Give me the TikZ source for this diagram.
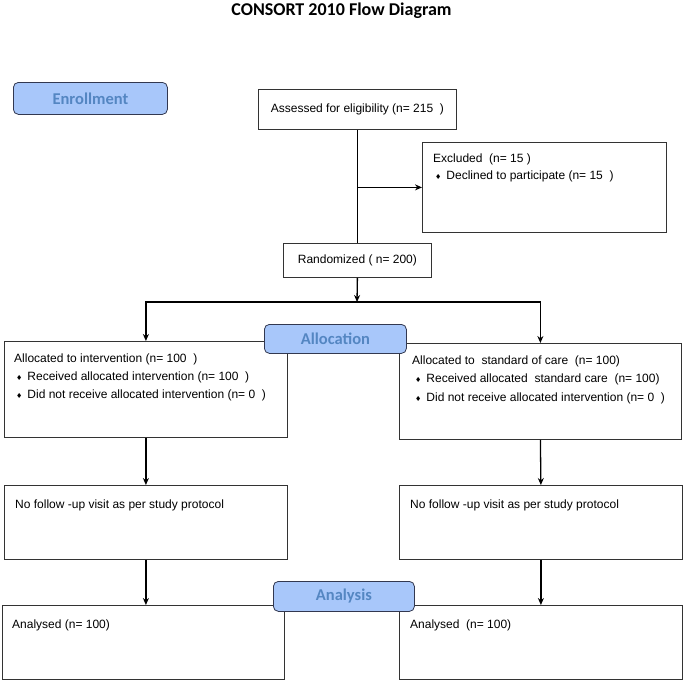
\documentclass[tikz,border=0pt]{standalone}
\usepackage{fontspec}
\setmainfont{Liberation Sans}
\newfontfamily\titlefont{Carlito}
\newfontfamily\symfont{DejaVu Sans}
\usepackage{tikz}
\usetikzlibrary{arrows.meta}

\definecolor{phasefill}{RGB}{168,199,250}
\definecolor{phasetext}{RGB}{84,134,194}
\definecolor{phaseline}{RGB}{50,56,80}
\newcommand{\bul}{{\symfont\fontsize{7}{7}\selectfont ♦}\hspace{5pt}}

\begin{document}
\begin{tikzpicture}[x=1pt, y=-1pt, font=\fontsize{12}{14}\selectfont,
		box/.style={draw=black!80, line width=0.8pt, inner sep=0pt, anchor=north west},
		phase/.style={draw=phaseline, fill=phasefill, line width=0.8pt, rounded corners=5pt,
			text=phasetext, font=\titlefont\bfseries\fontsize{16.5}{18}\selectfont, inner sep=0pt, anchor=north west},
		txt/.style={anchor=west, inner sep=0pt},
		arr/.style={line width=1.3pt, -{Stealth[length=7pt, width=6pt]}},
		link/.style={line width=1.3pt}]
		\useasboundingbox (0, 0) rectangle (683, 681);
		\node[font=\titlefont\bfseries\fontsize{18}{20}\selectfont] (title) at (341.5, 11) {CONSORT 2010 Flow Diagram};
		% Enrollment: eligibility, exclusions, randomisation.
		\node[box, minimum width=198, minimum height=40] (assess) at (258, 89) {};
		\node (assesstxt) at (assess.center) {Assessed for eligibility (n= 215\ \ )};
		\node[box, minimum width=244, minimum height=90] (excl) at (422, 142) {};
		\node[txt] (excltxt) at (433, 159) {Excluded\ \ (n= 15 )};
		\node[txt] (declined) at (435, 176) {\bul Declined to participate (n= 15\ \ )};
		\node[box, minimum width=148, minimum height=34] (rand) at (283, 243) {};
		\node (randtxt) at (rand.center) {Randomized ( n= 200)};
		% Allocation arms.
		\node[box, minimum width=283, minimum height=96] (allocL) at (4, 341) {};
		\node[txt] (allocLa) at (14, 359) {Allocated to intervention (n= 100\ \ )};
		\node[txt] (allocLb) at (16, 377) {\bul Received allocated intervention (n= 100\ \ )};
		\node[txt] (allocLc) at (16, 395) {\bul Did not receive allocated intervention (n= 0\ \ )};
		\node[box, minimum width=282, minimum height=96] (allocR) at (399, 343) {};
		\node[txt] (allocRa) at (412, 361) {Allocated to\ \ standard of care\ \ (n= 100)};
		\node[txt] (allocRb) at (415, 379) {\bul Received allocated\ \ standard care\ \ (n= 100)};
		\node[txt] (allocRc) at (415, 398) {\bul Did not receive allocated intervention (n= 0\ \ )};
		% Follow-up.
		\node[box, minimum width=283, minimum height=74] (followL) at (4, 485) {};
		\node[txt] (followLtxt) at (15, 505) {No follow -up visit as per study protocol};
		\node[box, minimum width=283, minimum height=74] (followR) at (399, 485) {};
		\node[txt] (followRtxt) at (410, 505) {No follow -up visit as per study protocol};
		% Analysis.
		\node[box, minimum width=282, minimum height=74] (anaL) at (2, 605) {};
		\node[txt] (anaLtxt) at (12, 625) {Analysed (n= 100)};
		\node[box, minimum width=283, minimum height=74] (anaR) at (399, 605) {};
		\node[txt] (anaRtxt) at (410, 625) {Analysed\ \ (n= 100)};
		% Connectors.
		\coordinate (split) at (357, 302);
		\draw[link] (assess.south) -- (assess.south |- rand.north);
		\draw[arr] (assess.south |- excl.west) -- (excl.west);
		\draw[arr] (rand.south) -- (split);
		\draw[link, line cap=rect] (allocL.north |- split) -- (allocR.north |- split);
		\draw[arr] (allocL.north |- split) -- (allocL.north);
		\draw[arr] (allocR.north |- split) -- (allocR.north);
		\draw[arr] (allocL.south) -- (followL.north);
		\draw[arr] (allocR.south) -- (followR.north);
		\draw[arr] (followL.south) -- (followL.south |- anaL.north);
		\draw[arr] (followR.south) -- (followR.south |- anaR.north);
		% Phase labels.
		\node[phase, minimum width=154, minimum height=32] (enrol) at (13, 82) {Enrollment};
		\node[phase, minimum width=142, minimum height=29] (allocation) at (264, 324) {Allocation};
		\node[phase, minimum width=141, minimum height=30] (analysis) at (273, 581) {Analysis};
	\end{tikzpicture}
\end{document}
